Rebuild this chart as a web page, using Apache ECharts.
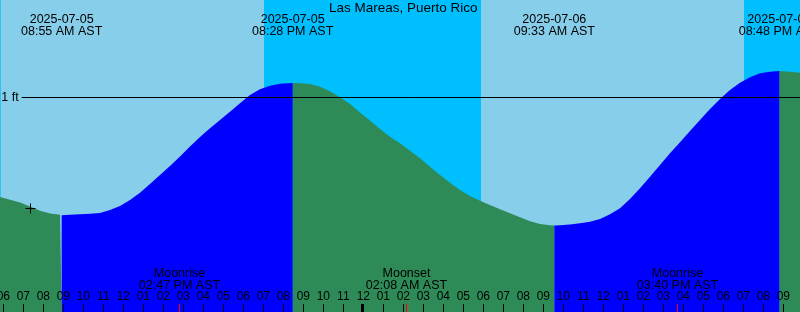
<!DOCTYPE html>
<html>
<head>
<meta charset="utf-8">
<style>
html, body { margin: 0; padding: 0; background: #87ceeb; }
#main { width: 800px; height: 312px; }
</style>
<script src="https://cdn.jsdelivr.net/npm/echarts@6/dist/echarts.min.js"></script>
</head>
<body>
<div id="main"></div>
<script>
var stationName = 'Las Mareas, Puerto Rico';
var startTime = '2025-07-05 05:50';
var endTime = '2025-07-06 21:50';

// tide samples (ft), turning points included
var tideTimes = [
    '2025-07-05 05:50', '2025-07-05 06:20', '2025-07-05 06:50', '2025-07-05 07:20', '2025-07-05 07:50',
    '2025-07-05 08:20', '2025-07-05 08:50', '2025-07-05 08:55', '2025-07-05 09:20', '2025-07-05 09:50',
    '2025-07-05 10:20', '2025-07-05 10:50', '2025-07-05 11:20', '2025-07-05 11:50', '2025-07-05 12:20',
    '2025-07-05 12:50', '2025-07-05 13:20', '2025-07-05 13:50', '2025-07-05 14:20', '2025-07-05 14:50',
    '2025-07-05 15:20', '2025-07-05 15:50', '2025-07-05 16:20', '2025-07-05 16:50', '2025-07-05 17:20',
    '2025-07-05 17:50', '2025-07-05 18:20', '2025-07-05 18:50', '2025-07-05 19:20', '2025-07-05 19:50',
    '2025-07-05 20:28', '2025-07-05 20:50', '2025-07-05 21:20', '2025-07-05 21:50', '2025-07-05 22:20',
    '2025-07-05 22:50', '2025-07-05 23:20', '2025-07-05 23:50', '2025-07-06 00:20', '2025-07-06 00:50',
    '2025-07-06 01:20', '2025-07-06 01:50', '2025-07-06 02:20', '2025-07-06 02:50', '2025-07-06 03:20',
    '2025-07-06 03:50', '2025-07-06 04:20', '2025-07-06 04:50', '2025-07-06 05:20', '2025-07-06 05:50',
    '2025-07-06 06:20', '2025-07-06 06:50', '2025-07-06 07:20', '2025-07-06 07:50', '2025-07-06 08:20',
    '2025-07-06 08:50', '2025-07-06 09:20', '2025-07-06 09:33', '2025-07-06 09:50', '2025-07-06 10:20',
    '2025-07-06 10:50', '2025-07-06 11:20', '2025-07-06 11:50', '2025-07-06 12:20', '2025-07-06 12:50',
    '2025-07-06 13:20', '2025-07-06 13:50', '2025-07-06 14:20', '2025-07-06 14:50', '2025-07-06 15:20',
    '2025-07-06 15:50', '2025-07-06 16:20', '2025-07-06 16:50', '2025-07-06 17:20', '2025-07-06 17:50',
    '2025-07-06 18:20', '2025-07-06 18:50', '2025-07-06 19:20', '2025-07-06 19:50', '2025-07-06 20:20',
    '2025-07-06 20:48', '2025-07-06 21:20', '2025-07-06 21:50'
];
var tideFeet = [
    0.28, 0.26, 0.24, 0.21, 0.18,
    0.16, 0.151, 0.148, 0.151, 0.155,
    0.158, 0.164, 0.186, 0.214, 0.258,
    0.31, 0.373, 0.438, 0.503, 0.571,
    0.643, 0.712, 0.775, 0.835, 0.894,
    0.955, 1.015, 1.056, 1.082, 1.096,
    1.101, 1.1, 1.094, 1.075, 1.042,
    0.998, 0.95, 0.889, 0.831, 0.77,
    0.714, 0.667, 0.613, 0.558, 0.498,
    0.438, 0.382, 0.33, 0.287, 0.253,
    0.222, 0.191, 0.162, 0.133, 0.104,
    0.085, 0.075, 0.074, 0.075, 0.081,
    0.09, 0.101, 0.121, 0.155, 0.198,
    0.265, 0.342, 0.426, 0.51, 0.594,
    0.674, 0.755, 0.835, 0.914, 0.986,
    1.051, 1.104, 1.143, 1.171, 1.183,
    1.188, 1.183, 1.176
];

var extremeTimes = ['2025-07-05 08:55', '2025-07-05 20:28', '2025-07-06 09:33', '2025-07-06 20:48'];
var extremeFeet = [0.148, 1.101, 0.074, 1.188];
var extremeKinds = ['low', 'high', 'low', 'high'];

var moonTimes = ['2025-07-05 14:47', '2025-07-06 02:08', '2025-07-06 15:40'];
var moonNames = ['Moonrise', 'Moonset', 'Moonrise'];

var sunriseTimes = ['2025-07-05 05:52', '2025-07-06 05:53'];
var sunsetTimes = ['2025-07-05 19:02', '2025-07-06 19:02'];
var midnightTimes = ['2025-07-06 00:00'];

var markFeet = 1;
var nowTime = '2025-07-05 07:20';
var nowFeet = 0.2;

var FONT = '"Liberation Sans", Arial, sans-serif';

function ts(s) {
    var p = s.split(/[- :]/);
    return new Date(+p[0], p[1] - 1, +p[2], +p[3], +p[4]).getTime();
}
function pad(n) { return n < 10 ? '0' + n : '' + n; }
function fmtDate(d) {
    return d.getFullYear() + '-' + pad(d.getMonth() + 1) + '-' + pad(d.getDate());
}
function fmtTime(d) {
    var h = d.getHours();
    return pad(h % 12 || 12) + ':' + pad(d.getMinutes()) + ' ' + (h < 12 ? 'AM' : 'PM') + ' AST';
}

// split the curve into falling (green) and rising (blue) pieces
var extremeTs = extremeTimes.map(ts);
function phaseAt(t) {
    var last = null;
    for (var i = 0; i < extremeTs.length; i++) {
        if (extremeTs[i] < t) last = extremeKinds[i];
    }
    if (last === null) return extremeKinds[0] === 'low' ? 'falling' : 'rising';
    return last === 'low' ? 'rising' : 'falling';
}
var fallingData = [], risingData = [];
tideTimes.forEach(function (s, i) {
    var t = ts(s);
    var isExt = extremeTs.indexOf(t) >= 0;
    var ph = phaseAt(t);
    fallingData.push([t, (isExt || ph === 'falling') ? tideFeet[i] : '-']);
    risingData.push([t, (isExt || ph === 'rising') ? tideFeet[i] : '-']);
});

// night bands
var nightAreas = [];
var edges = [[startTime, sunriseTimes[0]], [sunsetTimes[0], sunriseTimes[1]], [sunsetTimes[1], endTime]];
edges.forEach(function (e) {
    nightAreas.push([{ xAxis: ts(e[0]) }, { xAxis: ts(e[1]) }]);
});

var hourTicks = [];
for (var t = ts('2025-07-05 06:00'); t <= ts('2025-07-06 21:00'); t += 3600000) hourTicks.push(t);

var myChart = echarts.init(document.getElementById('main'));
var option = {
    animation: false,
    backgroundColor: '#87ceeb',
    title: {
        text: stationName,
        left: 329,
        top: 0,
        padding: [1, 0, 0, 0],
        textStyle: { fontSize: 13.5, fontWeight: 'normal', color: '#000', fontFamily: FONT }
    },
    grid: { left: 0, right: 0, top: 0, bottom: 0, containLabel: false, outerBoundsMode: 'none' },
    xAxis: {
        type: 'value',
        z: 10,
        min: ts(startTime),
        max: ts(endTime),
        axisLine: { show: false, onZero: false },
        splitLine: { show: false },
        axisTick: {
            show: true, inside: true, length: 8,
            customValues: hourTicks,
            lineStyle: { color: '#000', width: 1 }
        },
        axisLabel: {
            show: true, inside: true, margin: 9,
            customValues: hourTicks,
            hideOverlap: false,
            color: '#000', fontSize: 12, fontFamily: FONT,
            formatter: function (v) {
                var h = new Date(v).getHours();
                return pad(h % 12 || 12);
            }
        }
    },
    yAxis: {
        type: 'value',
        min: -0.55,
        max: 1.7,
        show: false
    },
    series: [
        {
            name: 'night',
            type: 'line',
            data: [],
            z: 1,
            markArea: {
                silent: true,
                itemStyle: { color: '#00bfff', opacity: 1 },
                data: nightAreas
            }
        },
        {
            name: 'falling',
            type: 'line',
            data: fallingData,
            showSymbol: false,
            lineStyle: { width: 0 },
            areaStyle: { color: '#2e8b57', opacity: 1, origin: 'start' }
        },
        {
            name: 'rising',
            type: 'line',
            data: risingData,
            showSymbol: false,
            lineStyle: { width: 0 },
            areaStyle: { color: '#0000ff', opacity: 1, origin: 'start' }
        },
        {
            name: 'tideLabels',
            type: 'custom',
            z: 6,
            data: extremeTimes.map(function (s, i) { return [ts(s), extremeFeet[i]]; }),
            encode: { x: 0, y: 1 },
            renderItem: function (params, api) {
                var x = api.coord([api.value(0), api.value(1)])[0];
                var d = new Date(api.value(0));
                var st = { align: 'center', verticalAlign: 'middle', fontSize: 12.5, fontFamily: FONT, fill: '#000' };
                return {
                    type: 'group',
                    children: [
                        { type: 'text', x: x, y: 19.5, style: Object.assign({ text: fmtDate(d) }, st) },
                        { type: 'text', x: x, y: 31.5, style: Object.assign({ text: fmtTime(d) }, st) }
                    ]
                };
            }
        },
        {
            name: 'moon',
            type: 'custom',
            z: 6,
            data: moonTimes.map(function (s, i) { return [ts(s), 0, i]; }),
            encode: { x: 0, y: 1 },
            renderItem: function (params, api) {
                var x = Math.round(api.coord([api.value(0), 0])[0]) + 0.5;
                var bottom = params.coordSys.y + params.coordSys.height;
                var d = new Date(api.value(0));
                var st = { align: 'center', verticalAlign: 'middle', fontSize: 12.5, fontFamily: FONT, fill: '#000' };
                return {
                    type: 'group',
                    children: [
                        { type: 'text', x: x, y: 274, style: Object.assign({ text: moonNames[api.value(2)] }, st) },
                        { type: 'text', x: x, y: 285.5, style: Object.assign({ text: fmtTime(d) }, st) },
                        { type: 'line', shape: { x1: x, y1: bottom - 8, x2: x, y2: bottom }, style: { stroke: '#ff0000', lineWidth: 1 } }
                    ]
                };
            }
        },
        {
            name: 'midnight',
            type: 'custom',
            z: 11,
            data: midnightTimes.map(function (s) { return [ts(s), 0]; }),
            encode: { x: 0, y: 1 },
            renderItem: function (params, api) {
                var x = api.coord([api.value(0), 0])[0];
                var bottom = params.coordSys.y + params.coordSys.height;
                return { type: 'rect', shape: { x: Math.round(x) - 2, y: bottom - 8, width: 3, height: 8 }, style: { fill: '#000' } };
            }
        },
        {
            name: 'now',
            type: 'custom',
            z: 6,
            data: [[ts(nowTime), nowFeet]],
            encode: { x: 0, y: 1 },
            renderItem: function (params, api) {
                var p = api.coord([api.value(0), api.value(1)]);
                var x = Math.round(p[0]) + 0.5, y = Math.round(p[1]) + 0.5;
                return {
                    type: 'group',
                    children: [
                        { type: 'line', shape: { x1: x - 5, y1: y, x2: x + 5, y2: y }, style: { stroke: '#000', lineWidth: 1 } },
                        { type: 'line', shape: { x1: x, y1: y - 5, x2: x, y2: y + 5 }, style: { stroke: '#000', lineWidth: 1 } }
                    ]
                };
            }
        },
        {
            name: 'datum',
            type: 'line',
            data: [],
            markLine: {
                silent: true,
                symbol: 'none',
                lineStyle: { color: '#000', width: 1, type: 'solid' },
                label: {
                    show: true, position: 'start', distance: 3,
                    formatter: markFeet + ' ft',
                    color: '#000', fontSize: 12.5, fontFamily: FONT
                },
                data: [[{ coord: [ts('2025-07-05 06:55'), markFeet] }, { coord: [ts(endTime), markFeet] }]]
            }
        }
    ]
};
myChart.setOption(option);
</script>
</body>
</html>
